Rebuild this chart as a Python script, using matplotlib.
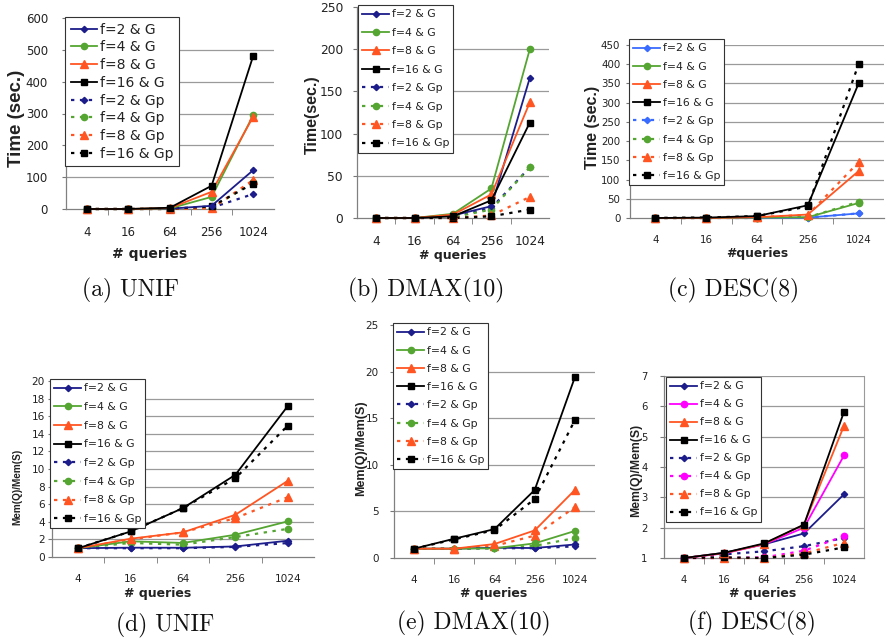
import matplotlib
matplotlib.use('Agg')
import matplotlib.pyplot as plt

W, H = 889, 642

queries = ['4', '16', '64', '256', '1024']
series_labels = ['f=2 & G', 'f=4 & G', 'f=8 & G', 'f=16 & G',
                 'f=2 & Gp', 'f=4 & Gp', 'f=8 & Gp', 'f=16 & Gp']

# (a) UNIF time
unif_time_G = [[0, 0, 1, 10, 122], [0, 0, 2, 38, 295], [0, 0, 3, 54, 290], [0, 0, 4, 73, 481]]
unif_time_Gp = [[0, 0, 0, 4, 47], [0, 0, 0, 3, 85], [0, 0, 0, 2, 91], [0, 0, 1, 8, 80]]
# (b) DMAX(10) time
dmax_time_G = [[0, 0, 3, 14, 166], [0, 0, 5, 35, 200], [0, 0, 4, 28, 137], [0, 0, 2, 21, 113]]
dmax_time_Gp = [[0, 0, 1, 12, 60], [0, 0, 1, 10, 60], [0, 0, 0, 3, 25], [0, 0, 0, 2, 10]]
# (c) DESC(8) time
desc_time_G = [[0, 0, 0, 1, 12], [0, 0, 1, 2, 39], [0, 0, 2, 9, 122], [0, 1, 5, 33, 350]]
desc_time_Gp = [[0, 0, 0, 1, 12], [0, 0, 1, 2, 42], [0, 0, 2, 8, 145], [0, 1, 5, 30, 400]]
# (d) UNIF memory
unif_mem_G = [[1, 1.06, 1.05, 1.2, 1.85], [1, 1.78, 1.6, 2.53, 4.05],
              [1, 2.08, 2.8, 4.8, 8.66], [1, 2.9, 5.56, 9.34, 17.16]]
unif_mem_Gp = [[1, 1.0, 1.0, 1.15, 1.59], [1, 1.6, 1.4, 2.27, 3.2],
               [1, 2.0, 2.8, 4.42, 6.8], [1, 2.9, 5.56, 8.96, 14.93]]
# (e) DMAX(10) memory
dmax_mem_G = [[1, 1.0, 1.1, 1.07, 1.45], [1, 1.0, 1.04, 1.57, 2.9],
              [1, 1.0, 1.5, 2.96, 7.3], [1, 2.07, 3.1, 7.3, 19.4]]
dmax_mem_Gp = [[1, 1.0, 1.05, 1.05, 1.25], [1, 1.0, 1.05, 1.3, 2.14],
               [1, 1.0, 1.3, 2.4, 5.46], [1, 2.0, 3.0, 6.32, 14.8]]
# (f) DESC(8) memory
desc_mem_G = [[1, 1.17, 1.45, 1.81, 3.1], [1, 1.15, 1.45, 2.0, 4.38],
              [1, 1.16, 1.46, 2.1, 5.36], [1, 1.17, 1.48, 2.1, 5.82]]
desc_mem_Gp = [[1, 1.12, 1.22, 1.39, 1.66], [1, 1.0, 1.02, 1.24, 1.72],
               [1, 1.0, 1.0, 1.15, 1.5], [1, 1.02, 1.0, 1.11, 1.35]]

captions = ['(a) UNIF', '(b) DMAX(10)', '(c) DESC(8)', '(d) UNIF', '(e) DMAX(10)', '(f) DESC(8)']

base_colors = ['#1c1c8a', '#55a532', '#ff5522', '#000000']
markers = ['D', 'o', '^', 's']
msizes = [3.2, 4.5, 5.5, 5.0]

plt.rcParams['font.family'] = ['DejaVu Sans']

fig = plt.figure(figsize=(W / 100, H / 100), dpi=100)


def fx(x):
    return x / W


def fy(y):
    return 1 - y / H


panels = [
    dict(G=unif_time_G, Gp=unif_time_Gp, box=(66, 18, 274, 209), ylim=(0, 600), step=100,
         ylabel='Time (sec.)', ylab_xy=(17, 118), yfs=13.5, xlabel='# queries',
         xlab_xy=(150, 254), xfs=10, leg=(65, 17), legfs=10.0, hl=1.9, ls=0.27,
         cap_xy=(130, 290), colors=base_colors, topgrid=False, rspine=False,
         tfs=8.5, ypad=10),
    dict(G=dmax_time_G, Gp=dmax_time_Gp, box=(357, 7, 549, 218), ylim=(0, 250), step=50,
         ylabel='Time(sec.)', ylab_xy=(312, 115), yfs=11.5, xlabel='# queries',
         xlab_xy=(453, 256), xfs=9, leg=(358, 5), legfs=7.8, hl=2.5, ls=0.78,
         cap_xy=(426, 290), colors=base_colors, topgrid=False, rspine=False,
         tfs=8.8, ypad=7),
    dict(G=desc_time_G, Gp=desc_time_Gp, box=(630, 45, 884, 218), ylim=(0, 450), step=50,
         ylabel='Time (sec.)', ylab_xy=(592, 127), yfs=11.5, xlabel='#queries',
         xlab_xy=(757, 254), xfs=8.8, leg=(629, 39), legfs=7.8, hl=2.5, ls=0.76,
         cap_xy=(734, 290),
         colors=['#3a6bff', '#55a532', '#ff5522', '#000000'], topgrid=True, rspine=False,
         tfs=7.4, ypad=4),
    dict(G=unif_mem_G, Gp=unif_mem_Gp, box=(52, 381, 314, 557), ylim=(0, 20), step=2,
         ylabel='Mem(Q)/Mem(S)', ylab_xy=(17, 487), yfs=7.2, xlabel='# queries',
         xlab_xy=(158, 593), xfs=9, leg=(50, 379), legfs=7.8, hl=2.5, ls=0.8,
         cap_xy=(165, 625), colors=base_colors, topgrid=False, rspine=False,
         tfs=7.6, ypad=2),
    dict(G=dmax_mem_G, Gp=dmax_mem_Gp, box=(394, 325, 595, 558), ylim=(0, 25), step=5,
         ylabel='Mem(Q)/Mem(S)', ylab_xy=(361, 448), yfs=9.0, xlabel='# queries',
         xlab_xy=(494, 594), xfs=9, leg=(393, 323), legfs=7.8, hl=2.5, ls=0.76,
         cap_xy=(474, 623), colors=base_colors, topgrid=False, rspine=False,
         tfs=7.5, ypad=8),
    dict(G=desc_mem_G, Gp=desc_mem_Gp, box=(664, 376, 864, 558), ylim=(1, 7), step=1,
         ylabel='Mem(Q)/Mem(S)', ylab_xy=(636, 470), yfs=8.8, xlabel='# queries',
         xlab_xy=(763, 593), xfs=9, leg=(666, 377), legfs=7.8, hl=2.5, ls=0.74,
         cap_xy=(752, 623),
         colors=['#1c1c8a', '#ff00ff', '#ff5522', '#000000'], topgrid=True, rspine=True,
         tfs=7.2, ypad=9),
]

xpos = list(range(len(queries)))

for i, p in enumerate(panels):
    x0, y0, x1, y1 = p['box']
    ax = fig.add_axes([fx(x0), fy(y1), (x1 - x0) / W, (y1 - y0) / H])
    ax.set_xlim(-0.5, len(queries) - 0.5)
    lo, hi = p['ylim']
    ax.set_ylim(lo, hi)
    yt = []
    v = lo
    while v <= hi + 1e-9:
        yt.append(v)
        v += p['step']
    ax.set_yticks(yt)
    ax.set_yticklabels([f'{t:g}' for t in yt], fontsize=p['tfs'], color='#222222')
    for t in yt:
        if t == lo:
            continue
        if t == hi and not p['topgrid']:
            continue
        ax.axhline(t, color='#9a9a9a', lw=0.9, zorder=0)
    ax.set_xticks(xpos)
    ax.set_xticklabels(queries, fontsize=p['tfs'], color='#222222')
    ax.set_xticks([k + 0.5 for k in xpos[:-1]], minor=True)
    ax.tick_params(axis='x', which='major', length=0, pad=12)
    ax.tick_params(axis='x', which='minor', length=4, color='#777777', direction='out')
    ax.tick_params(axis='y', length=3, color='#777777', direction='out', pad=p['ypad'])
    for s in ['left', 'bottom']:
        ax.spines[s].set_color('#808080')
        ax.spines[s].set_linewidth(0.9)
    ax.spines['top'].set_visible(False)
    ax.spines['right'].set_visible(p['rspine'])
    ax.spines['right'].set_color('#9a9a9a')
    handles = []
    for j in range(4):
        h, = ax.plot(xpos, p['G'][j], color=p['colors'][j], marker=markers[j],
                     markersize=msizes[j], lw=1.3, zorder=3 + j * 0.1, clip_on=False)
        handles.append(h)
    for j in range(4):
        h, = ax.plot(xpos, p['Gp'][j], color=p['colors'][j], marker=markers[j],
                     markersize=msizes[j], lw=1.6, ls=(0, (1.5, 2.5)), zorder=2.5 + j * 0.1,
                     clip_on=False)
        handles.append(h)
    leg = ax.legend(handles, series_labels, loc='upper left',
                    bbox_to_anchor=(fx(p['leg'][0]), fy(p['leg'][1])),
                    bbox_transform=fig.transFigure, borderaxespad=0, fontsize=p['legfs'],
                    frameon=True, fancybox=False, framealpha=1, edgecolor='#333333',
                    handlelength=p['hl'], handletextpad=0.2, labelspacing=p['ls'],
                    borderpad=0.4)
    leg.get_frame().set_linewidth(0.8)
    leg.set_zorder(10)
    for t in leg.get_texts():
        t.set_color('#222222')
    fig.text(fx(p['ylab_xy'][0]), fy(p['ylab_xy'][1]), p['ylabel'], rotation=90,
             ha='center', va='center', fontsize=p['yfs'], fontweight='bold',
             family='Liberation Sans', color='#222222')
    fig.text(fx(p['xlab_xy'][0]), fy(p['xlab_xy'][1]), p['xlabel'],
             ha='center', va='center', fontsize=p['xfs'], fontweight='bold', color='#222222')
    fig.text(fx(p['cap_xy'][0]), fy(p['cap_xy'][1]), captions[i],
             ha='center', va='center', fontsize=17, family='cmr10', color='#111111')

fig.savefig('out.png', dpi=100)
